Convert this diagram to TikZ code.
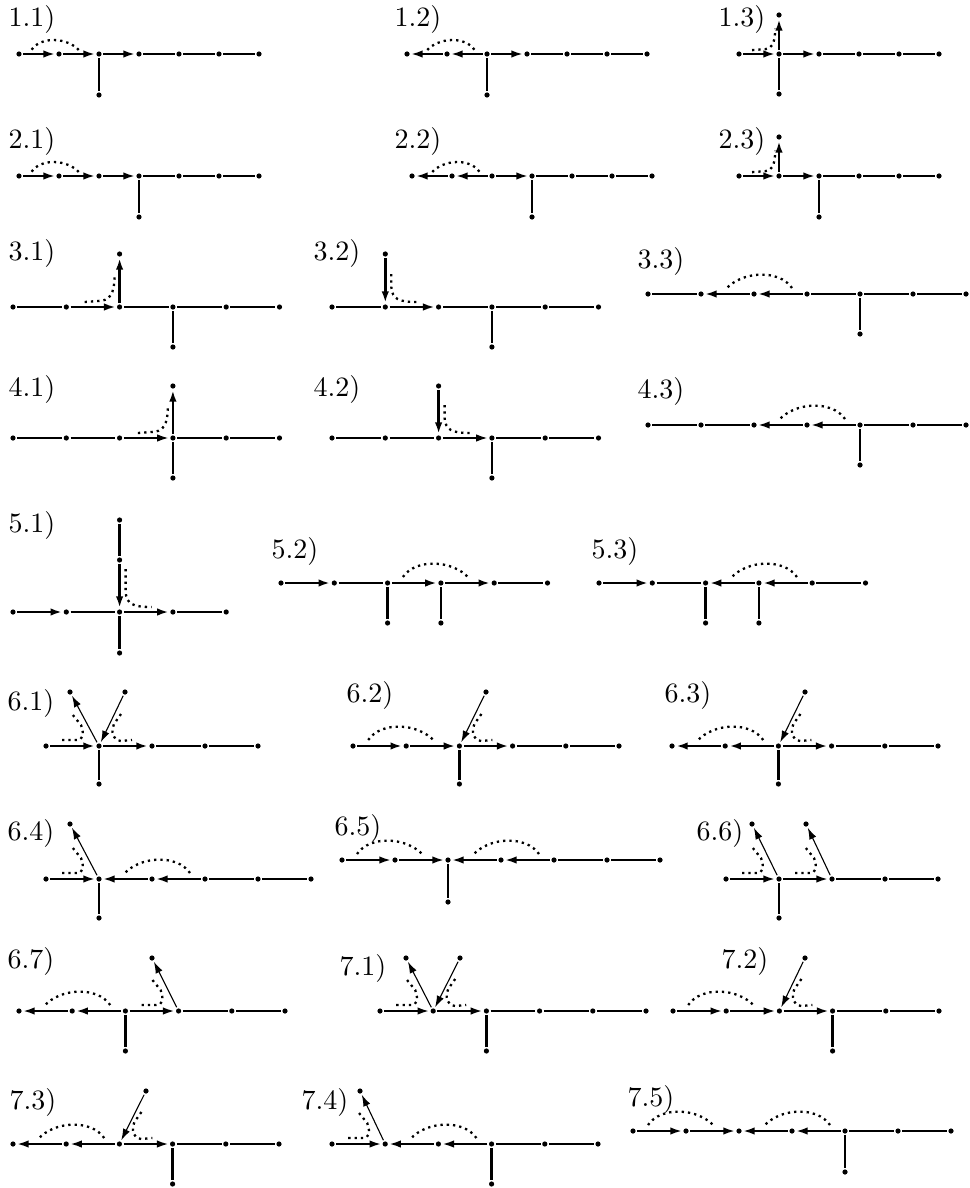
\documentclass[tikz,border=0pt]{standalone}
\usetikzlibrary{arrows.meta}
\tikzset{
 vtx/.style={circle,fill=black,inner sep=0pt,minimum size=5.2pt,outer sep=1.6pt},
 ln/.style={line width=1.9pt},
 tk/.style={line width=2.7pt},
 tn/.style={line width=1.1pt},
 ar/.style={-{Latex[length=11.5pt,width=7.5pt]}},
 dl/.style={line width=2.3pt,dash pattern=on 2.3pt off 4pt},
 lab/.style={anchor=base west,inner sep=0pt,scale=2.8},
}
\newcommand\hrow[5]{\foreach \i in {1,...,#5}{\node[vtx] (#1\i) at ({#2+(\i-1)*#4},#3) {};}}
\newcommand\pend[3]{\node[vtx] (#1) at (#2 |- 0,#3) {};}
\newcommand\E[3][ln]{\draw[#1] (#2) -- (#3);}
\newcommand\A[3][ln]{\draw[#1,ar] (#2) -- (#3);}
\newcommand\arcR[2]{\draw[dl] ([shift={(-38*#2,-6*#2)}]#1.center) .. controls ([shift={(-25*#2,-25*#2)}]#1.center) and ([shift={(12*#2,-23*#2)}]#1.center) .. ([shift={(28*#2,-5*#2)}]#1.center);}
\newcommand\arcL[2]{\draw[dl] ([shift={(38*#2,-6*#2)}]#1.center) .. controls ([shift={(25*#2,-25*#2)}]#1.center) and ([shift={(-12*#2,-23*#2)}]#1.center) .. ([shift={(-28*#2,-5*#2)}]#1.center);}
\newcommand\hookUp[2]{\draw[dl] ([shift={(-35*#2,-5*#2)}]#1.center) -- ([shift={(-22*#2,-6*#2)}]#1.center) .. controls ([shift={(-10*#2,-6*#2)}]#1.center) and ([shift={(-5*#2,-12*#2)}]#1.center) .. ([shift={(-5*#2,-33*#2)}]#1.center);}
\newcommand\hookDR[2]{\draw[dl] ([shift={(6,-#2)}]#1.center) -- ([shift={(6,-20)}]#1.center) .. controls ([shift={(7,-8)}]#1.center) and ([shift={(13,-5)}]#1.center) .. ([shift={(32,-5)}]#1.center);}
\newcommand\hookLU[1]{\draw[dl] ([shift={(-37,-6)}]#1.center) -- ([shift={(-23,-6)}]#1.center) .. controls ([shift={(-15,-6)}]#1.center) and ([shift={(-15,-12)}]#1.center) .. ([shift={(-18,-21)}]#1.center) -- ([shift={(-27,-32)}]#1.center);}
\newcommand\hookRD[1]{\draw[dl] ([shift={(22,-32)}]#1.center) -- ([shift={(15,-22)}]#1.center) .. controls ([shift={(12,-14)}]#1.center) and ([shift={(13,-6)}]#1.center) .. ([shift={(22,-5)}]#1.center) -- ([shift={(33,-6)}]#1.center);}
\begin{document}
\begin{tikzpicture}[x=1pt,y=-1pt]
\useasboundingbox (0,0) rectangle (969,1188);
% 1.1
\node[lab] (L11) at (8,27) {1.1)};
\hrow{a}{19}{54}{40}{7}
\pend{aP}{a3}{95}
\A{a1}{a2}\A{a2}{a3}\A{a3}{a4}\E{a4}{a5}\E{a5}{a6}\E{a6}{a7}\E[tk]{a3}{aP}
\arcR{a2}{0.72}
% 1.2
\node[lab] (L12) at (394,27) {1.2)};
\hrow{b}{407}{54}{40}{7}
\pend{bP}{b3}{95}
\A{b3}{b2}\A{b2}{b1}\A{b3}{b4}\E{b4}{b5}\E{b5}{b6}\E{b6}{b7}\E[tk]{b3}{bP}
\arcL{b2}{0.72}
% 1.3
\node[lab] (L13) at (718,27) {1.3)};
\hrow{c}{739}{54}{40}{6}
\pend{cT}{c2}{15}\pend{cP}{c2}{94}
\A{c1}{c2}\A{c2}{c3}\E{c3}{c4}\E{c4}{c5}\E{c5}{c6}\A[tk]{c2}{cT}\E[tk]{c2}{cP}
\hookUp{c2}{0.77}
% 2.1
\node[lab] (L21) at (8,149) {2.1)};
\hrow{d}{19}{176}{40}{7}
\pend{dP}{d4}{217}
\A{d1}{d2}\A{d2}{d3}\A{d3}{d4}\E{d4}{d5}\E{d5}{d6}\E{d6}{d7}\E[tk]{d4}{dP}
\arcR{d2}{0.72}
% 2.2
\node[lab] (L22) at (394,149) {2.2)};
\hrow{e}{412}{176}{40}{7}
\pend{eP}{e4}{217}
\A{e2}{e1}\A{e3}{e2}\A{e3}{e4}\E{e4}{e5}\E{e5}{e6}\E{e6}{e7}\E[tk]{e4}{eP}
\arcL{e2}{0.72}
% 2.3
\node[lab] (L23) at (718,149) {2.3)};
\hrow{f}{739}{176}{40}{6}
\pend{fT}{f2}{137}\pend{fP}{f3}{217}
\A{f1}{f2}\A{f2}{f3}\E{f3}{f4}\E{f4}{f5}\E{f5}{f6}\A[tk]{f2}{fT}\E[tk]{f3}{fP}
\hookUp{f2}{0.77}
% 3.1
\node[lab] (L31) at (8,260) {3.1)};
\hrow{g}{13}{307}{53.3}{6}
\pend{gT}{g3}{254}\pend{gP}{g4}{347}
\E{g1}{g2}\A{g2}{g3}\E{g3}{g4}\E{g4}{g5}\E{g5}{g6}\A[tk]{g3}{gT}\E[ln]{g4}{gP}
\hookUp{g3}{1}
% 3.2
\node[lab] (L32) at (313,260) {3.2)};
\hrow{h}{332}{307}{53.3}{6}
\pend{hT}{h2}{254}\pend{hP}{h4}{347}
\E{h1}{h2}\A{h2}{h3}\E{h3}{h4}\E{h4}{h5}\E{h5}{h6}\A[tk]{hT}{h2}\E[tk]{h4}{hP}
\hookDR{h2}{33}
% 3.3
\node[lab] (L33) at (637,268) {3.3)};
\hrow{i}{648}{294}{53}{7}
\pend{iP}{i5}{334}
\E{i1}{i2}\A{i3}{i2}\A{i4}{i3}\E{i4}{i5}\E{i5}{i6}\E{i6}{i7}\E{i5}{iP}
\arcL{i3}{1}
% 4.1
\node[lab] (L41) at (8,396) {4.1)};
\hrow{j}{13}{438}{53.3}{6}
\pend{jT}{j4}{386}\pend{jP}{j4}{478}
\E{j1}{j2}\E{j2}{j3}\A{j3}{j4}\E{j4}{j5}\E{j5}{j6}\A[tk]{j4}{jT}\E[tk]{j4}{jP}
\hookUp{j4}{1}
% 4.2
\node[lab] (L42) at (313,396) {4.2)};
\hrow{k}{332}{438}{53.3}{6}
\pend{kT}{k3}{386}\pend{kP}{k4}{478}
\E{k1}{k2}\E{k2}{k3}\A{k3}{k4}\E{k4}{k5}\E{k5}{k6}\A[tk]{kT}{k3}\E[tk]{k4}{kP}
\hookDR{k3}{33}
% 4.3
\node[lab] (L43) at (637,398) {4.3)};
\hrow{l}{648}{425}{53}{7}
\pend{lP}{l5}{465}
\E{l1}{l2}\E{l2}{l3}\A{l4}{l3}\A{l5}{l4}\E{l5}{l6}\E{l6}{l7}\E{l5}{lP}
\arcL{l4}{1}
% 5.1
\node[lab] (L51) at (8,532) {5.1)};
\hrow{m}{13}{612}{53.3}{5}
\pend{mT}{m3}{520}\pend{mU}{m3}{560}\pend{mP}{m3}{653}
\A[tk]{m1}{m2}\E[tk]{m2}{m3}\A[tk]{m3}{m4}\E[tk]{m4}{m5}\E[tk]{mT}{mU}\A[tk]{mU}{m3}\E[tk]{m3}{mP}
\hookDR{m3}{43}
% 5.2
\node[lab] (L52) at (271,558) {5.2)};
\hrow{n}{281}{583}{53.3}{6}
\pend{nP}{n3}{623}\pend{nQ}{n4}{623}
\A[tk]{n1}{n2}\E[tk]{n2}{n3}\A[tk]{n3}{n4}\A[tk]{n4}{n5}\E[tk]{n5}{n6}\E[tk]{n3}{nP}\E[tk]{n4}{nQ}
\arcR{n4}{1}
% 5.3
\node[lab] (L53) at (591,558) {5.3)};
\hrow{o}{599}{583}{53.3}{6}
\pend{oP}{o3}{623}\pend{oQ}{o4}{623}
\A[tk]{o1}{o2}\E[tk]{o2}{o3}\A[tk]{o4}{o3}\A[tk]{o5}{o4}\E[tk]{o5}{o6}\E[tk]{o3}{oP}\E[tk]{o4}{oQ}
\arcL{o4}{1}
% 6.1
\node[lab] (L61) at (7,710) {6.1)};
\hrow{p}{46}{746}{53}{5}
\node[vtx] (pL) at (70,692) {};\node[vtx] (pR) at (125,692) {};
\pend{pP}{p2}{784}
\A[tk]{p1}{p2}\A[tk]{p2}{p3}\E[tk]{p3}{p4}\E[tk]{p4}{p5}\E[tk]{p2}{pP}\A[tn]{p2}{pL}\A[tn]{pR}{p2}
\hookLU{p2}\hookRD{p2}
% 6.2
\node[lab] (L62) at (346,702) {6.2)};
\hrow{q}{353}{746}{53.2}{6}
\node[vtx] (qT) at (486,692) {};
\pend{qP}{q3}{784}
\A[tk]{q1}{q2}\A[tk]{q2}{q3}\A[tk]{q3}{q4}\E[tk]{q4}{q5}\E[tk]{q5}{q6}\E[tk]{q3}{qP}\A[tn]{qT}{q3}
\arcR{q2}{1}\hookRD{q3}
% 6.3
\node[lab] (L63) at (664,702) {6.3)};
\hrow{r}{672}{746}{53.2}{6}
\node[vtx] (rT) at (805,692) {};
\pend{rP}{r3}{784}
\A[tk]{r3}{r2}\A[tk]{r2}{r1}\A[tk]{r3}{r4}\E[tk]{r4}{r5}\E[tk]{r5}{r6}\E[tk]{r3}{rP}\A[tn]{rT}{r3}
\arcL{r2}{1}\hookRD{r3}
% 6.4
\node[lab] (L64) at (7,840) {6.4)};
\hrow{s}{46}{879}{53}{6}
\node[vtx] (sT) at (70,824) {};
\pend{sP}{s2}{918}
\A{s1}{s2}\A{s3}{s2}\A{s4}{s3}\E{s4}{s5}\E{s5}{s6}\E[tk]{s2}{sP}\A[tn]{s2}{sT}
\hookLU{s2}\arcL{s3}{1}
% 6.5
\node[lab] (L65) at (334,835) {6.5)};
\hrow{t}{342}{860}{53}{7}
\pend{tP}{t3}{902}
\A{t1}{t2}\A{t2}{t3}\A{t4}{t3}\A{t5}{t4}\E{t5}{t6}\E{t6}{t7}\E{t3}{tP}
\arcR{t2}{1}\arcL{t4}{1}
% 6.6
\node[lab] (L66) at (696,840) {6.6)};
\hrow{u}{726}{879}{53}{5}
\node[vtx] (uA) at (752,824) {};\node[vtx] (uB) at (806,824) {};
\pend{uP}{u2}{918}
\A{u1}{u2}\A{u2}{u3}\E{u3}{u4}\E{u4}{u5}\E[tk]{u2}{uP}\A[tn]{u2}{uA}\A[tn]{u3}{uB}
\hookLU{u2}\hookLU{u3}
% 6.7
\node[lab] (L67) at (7,968) {6.7)};
\hrow{v}{19}{1011}{53.2}{6}
\node[vtx] (vT) at (152,958) {};
\pend{vP}{v3}{1051}
\A{v3}{v2}\A{v2}{v1}\A{v3}{v4}\E{v4}{v5}\E{v5}{v6}\E[tk]{v3}{vP}\A[tn]{v4}{vT}
\arcL{v2}{1}\hookLU{v4}
% 7.1
\node[lab] (L71) at (339,975) {7.1)};
\hrow{w}{380}{1011}{53.2}{6}
\node[vtx] (wL) at (406,958) {};\node[vtx] (wR) at (460,958) {};
\pend{wP}{w3}{1051}
\A{w1}{w2}\A{w2}{w3}\E{w3}{w4}\E{w4}{w5}\E{w5}{w6}\E[tk]{w3}{wP}\A[tn]{w2}{wL}\A[tn]{wR}{w2}
\hookLU{w2}\hookRD{w2}
% 7.2
\node[lab] (L72) at (721,968) {7.2)};
\hrow{x}{673}{1011}{53.2}{6}
\node[vtx] (xT) at (805,958) {};
\pend{xP}{x4}{1051}
\A{x1}{x2}\A{x2}{x3}\A{x3}{x4}\E{x4}{x5}\E{x5}{x6}\E[tk]{x4}{xP}\A[tn]{xT}{x3}
\arcR{x2}{1}\hookRD{x3}
% 7.3
\node[lab] (L73) at (9,1109) {7.3)};
\hrow{y}{13}{1144}{53.2}{6}
\node[vtx] (yT) at (146,1091) {};
\pend{yP}{y4}{1184}
\A{y3}{y2}\A{y2}{y1}\A{y3}{y4}\E{y4}{y5}\E{y5}{y6}\E[tk]{y4}{yP}\A[tn]{yT}{y3}
\arcL{y2}{1}\hookRD{y3}
% 7.4
\node[lab] (L74) at (301,1109) {7.4)};
\hrow{z}{332}{1144}{53.2}{6}
\node[vtx] (zT) at (360,1091) {};
\pend{zP}{z4}{1184}
\A{z1}{z2}\A{z3}{z2}\A{z4}{z3}\E{z4}{z5}\E{z5}{z6}\E[tk]{z4}{zP}\A[tn]{z2}{zT}
\hookLU{z2}\arcL{z3}{1}
% 7.5
\node[lab] (L75) at (627,1106) {7.5)};
\hrow{aa}{633}{1131}{53}{7}
\pend{aaP}{aa5}{1172}
\A{aa1}{aa2}\A{aa2}{aa3}\A{aa4}{aa3}\A{aa5}{aa4}\E{aa5}{aa6}\E{aa6}{aa7}\E[tk]{aa5}{aaP}
\arcR{aa2}{1}\arcL{aa4}{1}
\end{tikzpicture}
\end{document}
